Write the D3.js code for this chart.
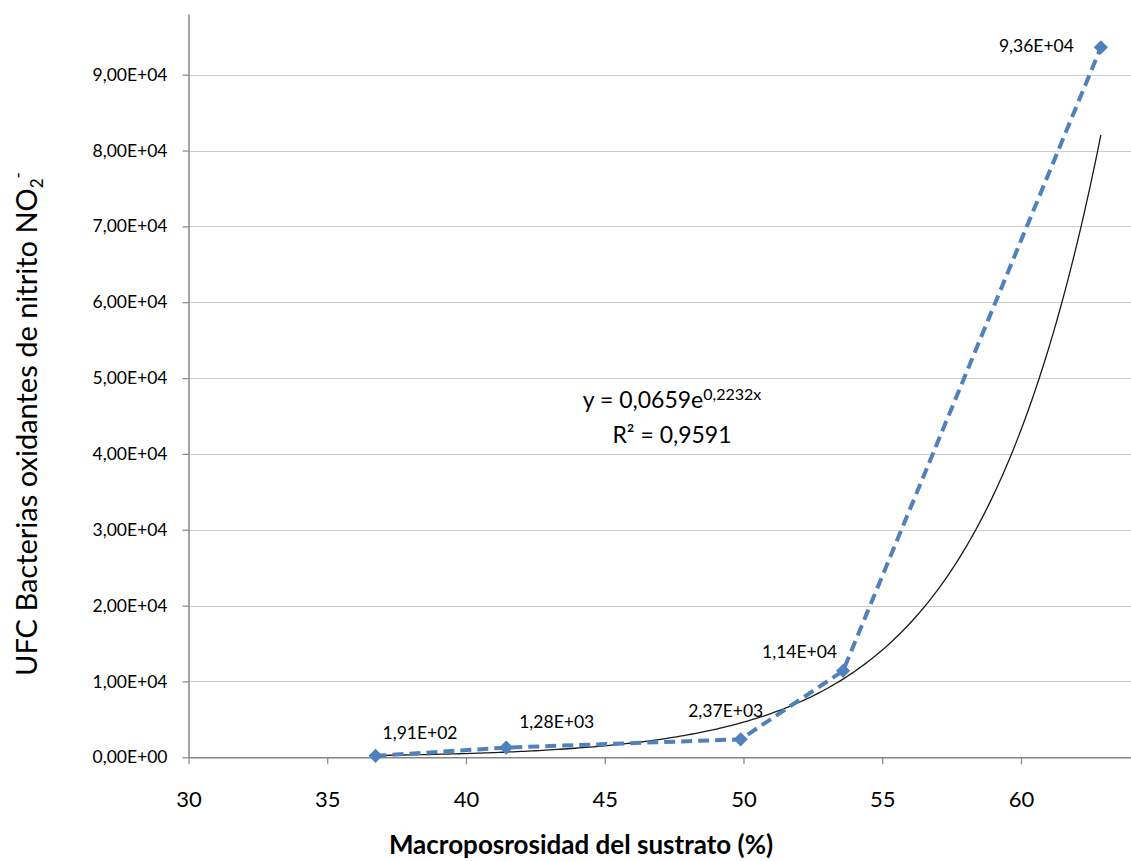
<!DOCTYPE html>
<html>
<head>
<meta charset="utf-8">
<script src="https://cdn.jsdelivr.net/npm/d3@7"></script>
<style>
  html, body { margin: 0; padding: 0; background: #fff; }
  svg { display: block; font-family: Lato, "Open Sans", sans-serif; }
</style>
</head>
<body>
<svg id="chart" width="1131" height="861"></svg>
<script>
// Macroporosity of substrate (%) vs. CFU of nitrite-oxidising bacteria
const macroporosity = [36.74, 41.45, 49.9, 53.59, 62.88];
const ufcCounts = [191, 1280, 2370, 11400, 93600];
const xTickValues = [30, 35, 40, 45, 50, 55, 60];
const yTickValues = [0, 10000, 20000, 30000, 40000, 50000, 60000, 70000, 80000, 90000];

// Exponential trend line y = a·e^(b·x)
const trendA = 0.0659;
const trendB = 0.2232;
const trendR2 = 0.9591;

// Label placement relative to each marker: [dx, dy, anchor]
const labelOffsets = [[7, -17, "start"], [13, -20, "start"], [-15, -22, "middle"], [-6, -13, "end"], [-27, 5, "end"]];

const W = 1131, H = 861;
const svg = d3.select("#chart");
svg.append("rect").attr("width", W).attr("height", H).attr("fill", "#fff");

const x = d3.scaleLinear().domain([30, 65]).range([188.5, 1159.7]);
const y = d3.scaleLinear().domain([0, 98000]).range([757.3, 14]);

const comma = s => s.replace(".", ",");
function sci(v) {
  const [m, e] = v.toExponential(2).split("e");
  const sign = e[0] === "-" ? "-" : "+";
  const digits = e.replace(/[+-]/, "").padStart(2, "0");
  return comma(m) + "E" + sign + digits;
}

// horizontal gridlines
svg.append("g")
  .selectAll("line")
  .data(yTickValues.filter(d => d > 0))
  .join("line")
  .attr("x1", x.range()[0]).attr("x2", W)
  .attr("y1", d => Math.round(y(d)) + 0.5).attr("y2", d => Math.round(y(d)) + 0.5)
  .attr("stroke", "#9a9a9a")
  .attr("stroke-width", 1)
  .attr("stroke-dasharray", "1,1");

// axes
const axisColor = "#868686";
const gx = svg.append("g")
  .attr("transform", `translate(0,${y(0)})`)
  .call(d3.axisBottom(x).tickValues(xTickValues).tickSize(7).tickSizeOuter(0).tickPadding(27).tickFormat(d3.format("d")));
const gy = svg.append("g")
  .attr("transform", `translate(${x(30)},0)`)
  .call(d3.axisLeft(y).tickValues(yTickValues).tickSize(6).tickSizeOuter(0).tickPadding(15).tickFormat(sci));

[gx, gy].forEach(g => {
  g.selectAll(".domain").attr("stroke", axisColor).attr("stroke-width", 1.5);
  g.selectAll(".tick line").attr("stroke", axisColor).attr("stroke-width", 1.2);
  g.selectAll("text").attr("fill", "#000").attr("font-family", "Lato, sans-serif");
});
gx.selectAll("text").attr("font-size", 22);
gy.selectAll("text").attr("font-size", 17.5);

// trend curve over the range of the data
const [xmin, xmax] = d3.extent(macroporosity);
const trendPts = d3.range(0, 201).map(i => {
  const xv = xmin + (xmax - xmin) * i / 200;
  return [xv, trendA * Math.exp(trendB * xv)];
});
svg.append("path")
  .datum(trendPts)
  .attr("fill", "none")
  .attr("stroke", "#1a1a1a")
  .attr("stroke-width", 1.3)
  .attr("d", d3.line().x(d => x(d[0])).y(d => y(d[1])));

// data series
const pts = macroporosity.map((xv, i) => [xv, ufcCounts[i]]);
const blue = "#4f81bd";
svg.append("path")
  .datum(pts)
  .attr("fill", "none")
  .attr("stroke", blue)
  .attr("stroke-width", 4)
  .attr("stroke-dasharray", "11,6")
  .attr("d", d3.line().x(d => x(d[0])).y(d => y(d[1])));

svg.append("g")
  .selectAll("path")
  .data(pts)
  .join("path")
  .attr("d", d3.symbol().type(d3.symbolSquare).size(100))
  .attr("transform", d => `translate(${x(d[0])},${y(d[1])}) rotate(45)`)
  .attr("fill", blue);

// value labels
svg.append("g")
  .selectAll("text")
  .data(pts)
  .join("text")
  .attr("x", (d, i) => x(d[0]) + labelOffsets[i][0])
  .attr("y", (d, i) => y(d[1]) + labelOffsets[i][1])
  .attr("text-anchor", (d, i) => labelOffsets[i][2])
  .attr("font-size", 17.5)
  .attr("fill", "#000")
  .text(d => sci(d[1]));

// trend equation
const eq = svg.append("text")
  .attr("x", 672).attr("y", 408)
  .attr("text-anchor", "middle")
  .attr("font-size", 23)
  .attr("fill", "#000");
eq.append("tspan").text("y = " + comma(trendA.toFixed(4)) + "e");
eq.append("tspan").attr("font-size", 16).attr("dy", -8).text(comma(trendB.toFixed(4)) + "x");

svg.append("text")
  .attr("x", 672).attr("y", 443)
  .attr("text-anchor", "middle")
  .attr("font-size", 23)
  .attr("fill", "#000")
  .text("R² = " + comma(trendR2.toFixed(4)));

// axis titles
svg.append("text")
  .attr("x", 581).attr("y", 854)
  .attr("text-anchor", "middle")
  .attr("font-size", 26)
  .attr("font-weight", "bold")
  .attr("fill", "#000")
  .text("Macroposrosidad del sustrato (%)");

const yt = svg.append("text")
  .attr("transform", "translate(37,424) rotate(-90)")
  .attr("text-anchor", "middle")
  .attr("font-size", 29)
  .attr("fill", "#000");
yt.append("tspan").text("UFC Bacterias oxidantes de nitrito NO");
yt.append("tspan").attr("font-size", 17).attr("dy", 6).text("2");
yt.append("tspan").attr("font-size", 17).attr("dy", -19).text("-");
</script>
</body>
</html>
